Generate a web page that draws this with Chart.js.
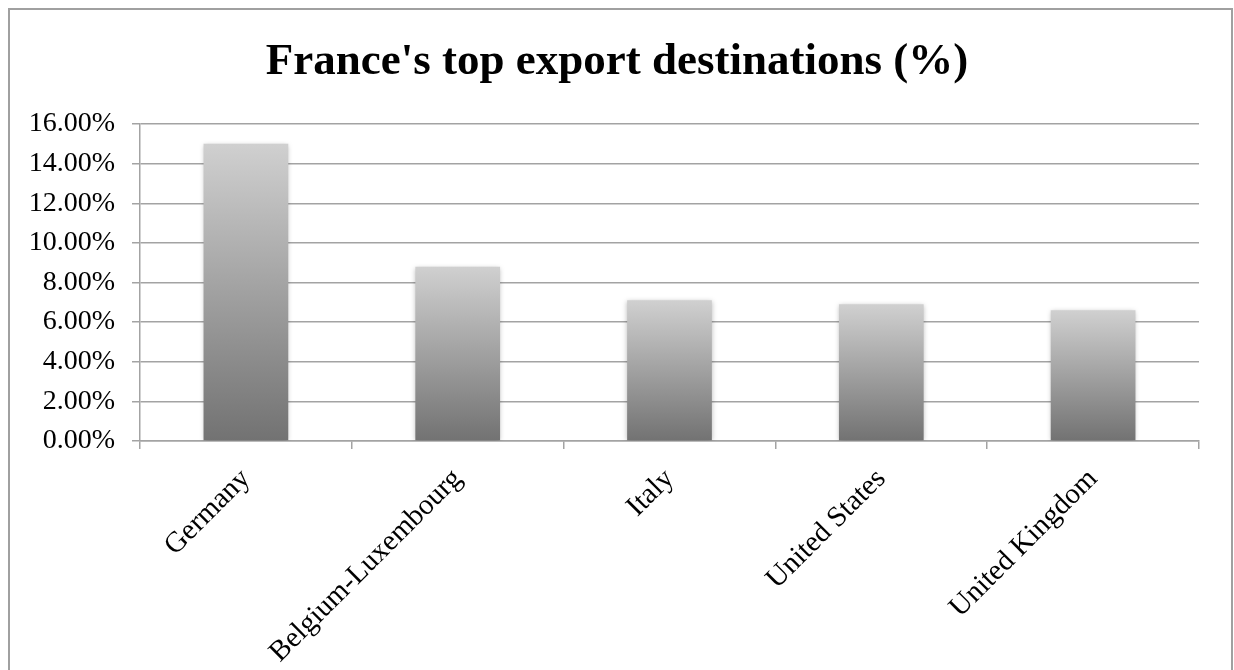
<!DOCTYPE html>
<html>
<head>
<meta charset="utf-8">
<script src="https://cdn.jsdelivr.net/npm/chart.js@4.4.1/dist/chart.umd.min.js"></script>
<style>
  html, body { margin: 0; padding: 0; background: #ffffff; }
  #wrap { width: 1234px; height: 670px; }
</style>
</head>
<body>
<div id="wrap"><canvas id="chart" width="1234" height="670"></canvas></div>
<script>
// Share of France's exports by destination, in percent
const destinations = ['Germany', 'Belgium-Luxembourg', 'Italy', 'United States', 'United Kingdom'];
const exportShare = [15.0, 8.8, 7.1, 6.9, 6.6];
const chartTitle = "France's top export destinations (%)";
const axisMax = 16;
const axisStep = 2;

const serif = '"Liberation Serif", "DejaVu Serif", serif';
const gridGray = '#a3a3a3';

// Each bar gets its own vertical gradient: light at the top, dark at the base
function barGradient(context) {
  const chart = context.chart;
  const area = chart.chartArea;
  if (!area || context.type !== 'data') return '#a0a0a0';
  const yScale = chart.scales.y;
  const top = yScale.getPixelForValue(context.raw);
  const base = yScale.getPixelForValue(0);
  const g = chart.ctx.createLinearGradient(0, top, 0, base);
  g.addColorStop(0, '#d0d0d0');
  g.addColorStop(1, '#727272');
  return g;
}

// Frame around the whole chart and white backdrop
const framePlugin = {
  id: 'frame',
  beforeDraw(chart) {
    const ctx = chart.ctx;
    ctx.save();
    ctx.fillStyle = '#ffffff';
    ctx.fillRect(0, 0, chart.width, chart.height);
    ctx.strokeStyle = '#a0a0a0';
    ctx.lineWidth = 2;
    ctx.strokeRect(9, 9, 1223, 700);
    ctx.restore();
  }
};

// Soft shadow behind the bars
const barShadowPlugin = {
  id: 'barShadow',
  beforeDatasetsDraw(chart) {
    const ctx = chart.ctx;
    ctx.save();
    ctx.shadowColor = 'rgba(0,0,0,0.28)';
    ctx.shadowBlur = 5;
    ctx.shadowOffsetX = 0;
    ctx.shadowOffsetY = 1;
  },
  afterDatasetsDraw(chart) {
    chart.ctx.restore();
  }
};

new Chart(document.getElementById('chart'), {
  type: 'bar',
  data: {
    labels: destinations,
    datasets: [{
      data: exportShare,
      backgroundColor: barGradient,
      borderWidth: 0,
      categoryPercentage: 0.8,
      barPercentage: 0.5
    }]
  },
  options: {
    responsive: false,
    animation: false,
    devicePixelRatio: 1,
    layout: { padding: 0 },
    plugins: {
      legend: { display: false },
      tooltip: { enabled: false },
      title: {
        display: true,
        text: chartTitle,
        color: '#000000',
        font: { family: serif, size: 45, weight: 'bold', lineHeight: 1.2 },
        padding: { top: 35, bottom: 35 }
      }
    },
    scales: {
      x: {
        offset: true,
        grid: {
          offset: true,
          drawOnChartArea: false,
          drawTicks: true,
          tickLength: 8,
          color: gridGray,
          lineWidth: 1.5
        },
        border: { display: true, color: gridGray, width: 1.5 },
        ticks: {
          color: '#000000',
          font: { family: serif, size: 29 },
          minRotation: 45,
          maxRotation: 45,
          padding: 13,
          autoSkip: false
        },
        afterFit(scale) { scale.height = 229; }
      },
      y: {
        min: 0,
        max: axisMax,
        grid: {
          color: gridGray,
          lineWidth: 1.5,
          drawTicks: true,
          tickLength: 8
        },
        border: { display: true, color: gridGray, width: 1.5 },
        ticks: {
          stepSize: axisStep,
          color: '#000000',
          font: { family: serif, size: 28 },
          padding: 17,
          callback: v => v.toFixed(2) + '%'
        },
        afterFit(scale) { scale.width = 140; }
      },
      // empty right-hand margin so the plot ends short of the frame
      spacer: {
        type: 'linear',
        position: 'right',
        display: true,
        ticks: { display: false },
        grid: { display: false },
        border: { display: false },
        afterFit(scale) { scale.width = 35; }
      }
    }
  },
  plugins: [framePlugin, barShadowPlugin]
});
</script>
</body>
</html>
